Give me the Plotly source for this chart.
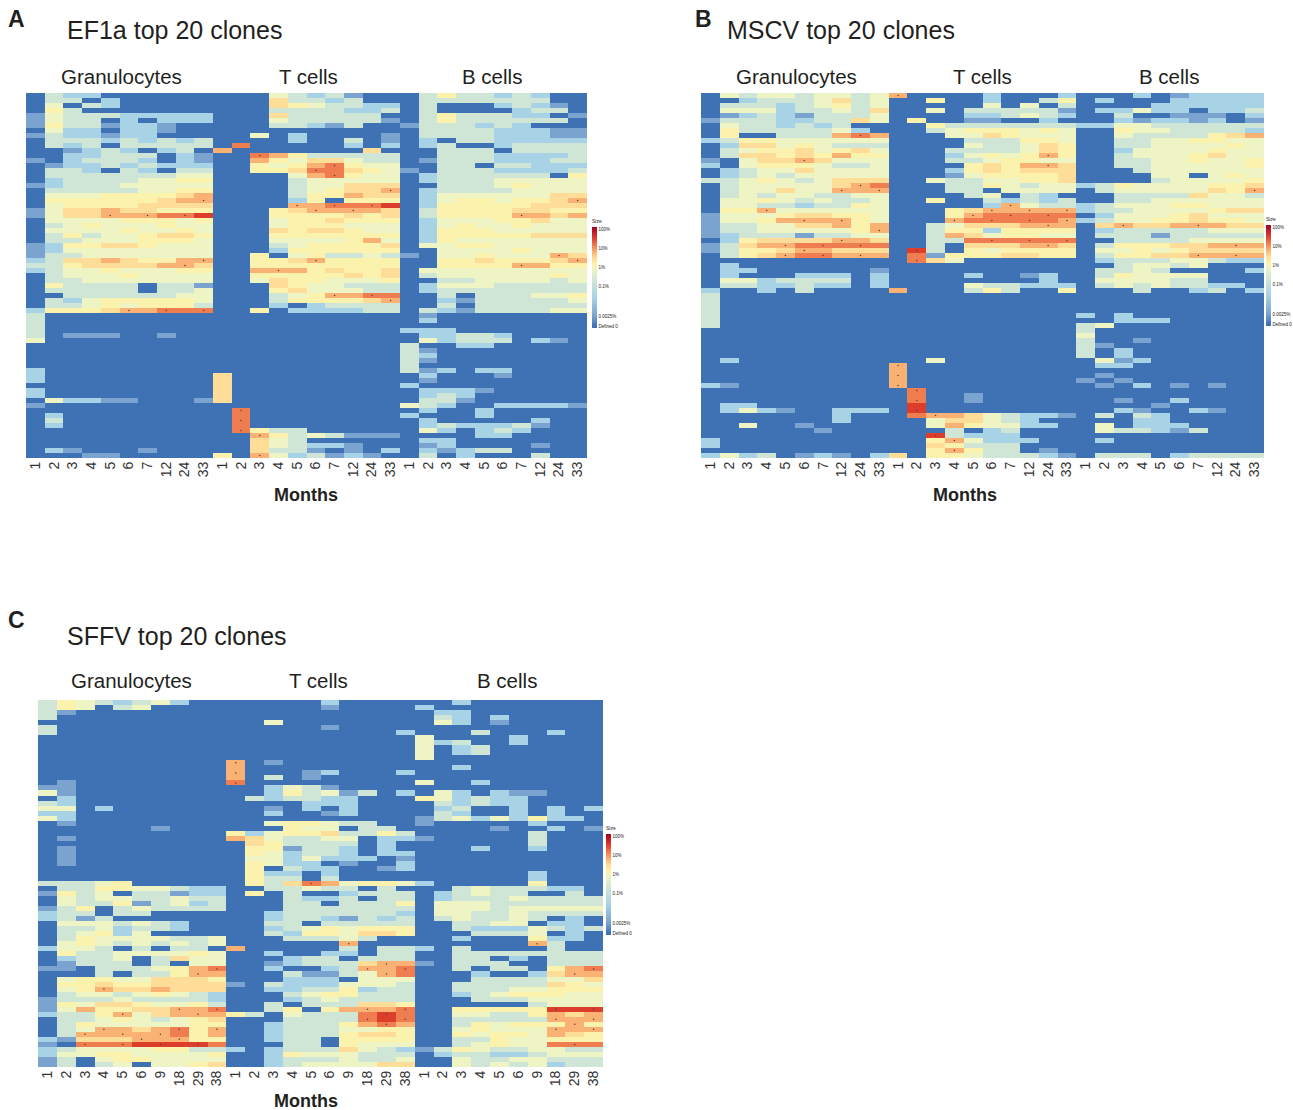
import plotly.graph_objects as go

W, H = 1293, 1110

# Level codes, one string per clone: Granulocytes | T cells | B cells
EF1A_ROWS = [
"0322000000 0004323100 0353323200","0330200000 0006332300 0333333300","0403200000 0006543322 0300023210",
"0530000000 0003333223 0300002330","1433322222 0006333330 0353332201","1433020222 0004333331 0353333330",
"1533122100 0003321300 1333232000","0422022100 0000000000 0333322211","1322122000 0040200001 0333322211",
"0333232323 0000200301 0203322222","0323033333 0800000202 0230023333","0012320230 7000000060 0033303333",
"0022333021 0087533333 0033322223","1023332021 0075466433 0133322233","0122323222 0054578544 0033033222",
"0332032033 0055688654 1033322223","0333333344 0000478544 0233333305","0233334455 0000344444 0233344444",
"1233344444 0000344666 0033345444","0333334455 0000345667 0233334444","0444555567 0000355766 0244444466",
"0555555677 0000250555 0245545567","0455556666 0000778889 0255555666","1466766555 0005677776 0355556655",
"1466777889 0005555656 0355557767","0444455545 0004556555 0244455644","0345444544 0004555444 0245445444",
"0444454454 0006566544 0255544444","0353445665 0005555555 0255555666","0334445554 0004444574 0254444444",
"1255665444 0003455556 0445544444","1244444444 0002555555 0044445444","1334444444 0050453343 1044544476",
"2366765577 0055675555 0055655567","3356666776 0055555555 0055557755","2344544455 0077756556 0444444444",
"0344454444 0055555656 0344444454","0334444444 0046554445 0033444434","0533330331 0006544333 0244433333",
"0333330334 0005644433 0233333333","0033333344 0003457788 0030333445","0324555554 0003555567 0021333334",
"0334545553 0002023333 0030333333","2555677888 0050222233 0321333344","3000000000 0000000000 0100000000",
"3000000000 0000000000 0200000000","3000000000 0000000000 0000000000","3000000000 0000000000 2220000000",
"3011100100 0000000000 0223320000","4000000000 0000000000 0423330210","0000000000 0000000000 3002200000",
"0000000000 0000000000 3100000000","0000000000 0000000000 3200000000","0000000000 0000000000 3100000000",
"0000000000 0000000000 3000000000","2000000000 0000000000 3120220000","2000000000 6000000000 0200010000",
"2000000000 6000000000 0100000000","0000000000 6000000000 2000000000","2000000000 6000000000 0222100000",
"2000000000 6000000000 0232000000","0422110001 6000000000 0331000000","1000000000 0000000000 4320022221",
"0000000000 0800000000 0200200000","0200000000 0800000000 2000200000","0300000000 0800000000 0200000200",
"0200000000 0800000000 0232223100","0000000000 0853300000 0420232000","0000000000 0075343111 0000220000",
"0000000000 0064300000 0220000000","0000000000 0064322100 0120000100","0210001000 0063310102 0212330000",
"0001100000 5074231210 0302000300",
]

MSCV_ROWS = [
"0434434434 7000020002 0002012222","0023334634 0050020035 0200022222","0333234534 0000040403 0000222222",
"0444233436 0040333331 0224220223","0123213334 0000223432 0030011102","1333223364 0500110020 0021221201",
"0433232300 0053333333 2244333333","0533333420 0034555454 0054433332","0500333787 0004465444 0043333567",
"2355444444 0000333554 0033445544","0266454333 0000433465 0033444454","0345564564 0003333465 0024444544",
"0366565755 0002454575 0034445644","1046676444 0003345544 0033445445","2045554334 0000565776 0033444445",
"0234464444 0002565666 0003444444","0234344444 0001455556 0000440454","3345434666 0043344556 0000344445",
"0344444678 0003354344 2354444556","0344644777 0003304444 0344444657","0343443344 0000340320 0033336443",
"0445434334 0050032323 0033444444","0443323354 0000027433 2344455444","0557444444 0005677777 2334444566",
"1444566554 0005788888 0244456444","1445777754 0007888887 2344556554","1334466757 0034666777 0676677766",
"1334444457 0035525555 0233333444","1233313344 0037645544 0333133333","0256666776 0033888888 0033334444",
"1367788888 0030666776 0355566777","1355677666 0930545555 0445456666","0356788777 0815556655 0355667777",
"0000000000 0864000000 0233344322","0200000000 0000000000 0034434000","0220000001 0000000000 0334300002",
"0200022202 0000200120 0354444000","0442333302 0000000020 0444433000","0332232202 0000433222 0343433220",
"2002030000 7000353005 0003002302","3000000000 0000000000 0000000000","3000000000 0000000000 0000000000",
"3000000000 0000000000 0000000000","3000000000 0000000000 0000000000","3000000000 0000000000 2020000000",
"3000000000 0000000000 0022200000","3000000000 0000000000 3400000000","0000000000 0000000000 3000000000",
"0000000000 0000000000 4000000000","0000000000 0000000000 3001000000","0000000000 0000000000 3100000000",
"0000000000 0000000000 3020000000","0000000000 0000000000 3020000000","0200000000 0040000000 0412000000",
"0000000000 7000000000 0220000000","0000000000 7000000000 0000000000","0000000000 7000000000 0100000000",
"0000000000 7000000000 1010000000","2100000000 7000000000 0102010100","0000000000 0800000000 0000000000",
"0000000000 0800100000 0000000000","0000000000 0800100000 0010020000","0220000000 0900000000 0000100000",
"0242100222 0900000000 0021002100","0000000200 0877643221 0303200000","0000000200 0046643200 0002200000",
"0040010000 0047544220 0402220000","0000001000 0003023000 0433213000","0000000000 0093222000 0000000000",
"2000000000 0057422200 0200000000","2000000000 0065333000 0000000000","0000000000 0057533010 0000000000",
"2423012102 6055433321 0333023333",
]

SFFV_ROWS = [
"3543234200 0000020000 0020000000","3540340000 0000010000 2000000000","3100000000 0000000000 0220000000",
"3000000000 0000000000 0320200000","0000000000 0040000000 0420100000","3000000000 0000010000 0000000000",
"3000000000 0000000002 0003000200","0000000000 0000000000 4000020000","0000000000 0000000000 4230020000",
"0000000000 0000000000 4023000000","0000000000 0000000000 4023000000","0000000000 0000000000 4000000000",
"0000000000 7010000000 0000000000","0000000000 7000000000 0020000000","0000000000 7000120002 0000000000",
"0000000000 7030100000 0000000000","0100000000 8000000000 4002000000","1100000000 0024310000 0000000000",
"4100000000 0025341302 0420211000","0200000000 0323322000 5423220000","3200000000 0000222000 0323220000",
"4402000000 0010202000 0230020202","2200000000 0020012000 0320020200","4200000000 0000000000 1342425220",
"0100000000 0045543300 1000002000","0000001000 0005440330 0000100201","0000000000 5245563353 0000003000",
"0100000000 7643344022 1000003000","0000000000 0653333020 0000003000","0100000000 0551332020 0002002000",
"0100000000 0542332022 0000000000","0100000000 0442422201 0000000000","0100000000 0542201002 0000000000",
"0000000000 0503220012 0000000000","0000000000 0522020000 0000002000","0000000000 0533030000 0000002000",
"3334500000 0536874554 2000005000","0335544322 0033433030 0034333220","1534033122 0503002333 0234330030",
"0434433433 0003223033 0233343333","0433513423 0003303335 0444333333","1350343333 0003333333 0444344444",
"2330330000 0023333332 0443343333","2313000000 0023321323 0343343020","0444343200 0033033333 0033440220",
"0334233200 0023454555 0032224323","0345240000 0032554665 0003334020","0354444334 0003334300 0020005220",
"0454343434 0000007000 0000007300","2443030330 7000003033 2030000300","0533444454 0020022033 0033333333",
"0233403644 0002330333 0033020333","0133303044 0012333677 1033300333","1103334578 0020023778 0030330578",
"0003033577 0003113478 0002002677","0455446665 0002220444 0003333446","0556556666 1032224443 0033333654",
"0457667666 0022335233 0033344555","0344345432 0003455333 0023455544","1333433332 0002343333 0003334444",
"1546654453 0030333665 0000003444","1475566778 0035057778 0055555999","2335746777 5304333898 0044335767",
"0334543456 0003333898 0033333777","0354444455 0023335787 0035455575","0347767857 0023334455 0045444777",
"0377777857 0023335665 0054554765","2166677755 0023305555 0033544555","1088899998 0003305444 0034544888",
"2344445533 2023336432 1354334433","2445544445 0025444333 0233223444","1304554444 0023334334 0043344333",
"1303404456 0023444466 0043434233",
]

COLUMN_TICKS_AB = ["1","2","3","4","5","6","7","12","24","33","1","2","3","4","5","6","7","12","24","33","1","2","3","4","5","6","7","12","24","33"]
COLUMN_TICKS_C = ["1","2","3","4","5","6","9","18","29","38","1","2","3","4","5","6","9","18","29","38","1","2","3","4","5","6","9","18","29","38"]

LEVEL_VALUES = [0.0, 0.12, 0.30, 0.47, 0.58, 0.63, 0.69, 0.75, 0.82, 0.89]
COLOR_STOPS = [[0.0,"#3f72b5"],[0.02,"#3f72b5"],[0.12,"#7ba3cf"],[0.30,"#a8d2e5"],[0.47,"#cfe6d6"],
               [0.58,"#eef4c4"],[0.63,"#fbf2ad"],[0.69,"#fedd98"],[0.75,"#f9b274"],[0.82,"#ef7d50"],
               [0.89,"#db3f2c"],[1.0,"#a50026"]]
BAR_TICK_VALUES = [0.98, 0.79, 0.60, 0.41, 0.11, 0.02]
BAR_TICK_TEXT = ["100%", "10%", "1%", "0.1%", "0.0025%", "Defined 0"]

PANELS = [
    dict(rows=EF1A_ROWS, ticks=COLUMN_TICKS_AB, box=(26,587,93,458), bar=(592,216,328), mx=306, my=495,
         title="EF1a top 20 clones", tx=65, ty=30, letter="A", lx=6, ly=19,
         groups=[("Granulocytes",121),("T cells",308),("B cells",492)], gy=77),
    dict(rows=MSCV_ROWS, ticks=COLUMN_TICKS_AB, box=(701,1264,93,458), bar=(1266,214,326), mx=965, my=495,
         title="MSCV top 20 clones", tx=725, ty=30, letter="B", lx=693, ly=19,
         groups=[("Granulocytes",796),("T cells",982),("B cells",1169)], gy=77),
    dict(rows=SFFV_ROWS, ticks=COLUMN_TICKS_C, box=(38,603,700,1067), bar=(606,823,935), mx=306, my=1101,
         title="SFFV top 20 clones", tx=65, ty=636, letter="C", lx=6, ly=620,
         groups=[("Granulocytes",131),("T cells",318),("B cells",507)], gy=680),
]


def cells(rows):
    out = []
    for row in rows:
        parts = [p.ljust(10, "0")[:10] for p in row.split()]
        out.append([int(c) for c in "".join(parts)])
    return out


fig = go.Figure()
ann = []


def text(s, x, y, size, anchor="center", bold=False, color="#231f20"):
    ann.append(dict(text=f"<b>{s}</b>" if bold else s, x=x/W, y=1-y/H, xref="paper", yref="paper",
                    xanchor=anchor, yanchor="middle", showarrow=False,
                    font=dict(family="Liberation Sans", size=size, color=color)))


for i, p in enumerate(PANELS):
    suffix = "" if i == 0 else str(i+1)
    L, R, T, B = p["box"]
    levels = cells(p["rows"])
    z = [[LEVEL_VALUES[v] for v in r] for r in levels]
    bx, bt, bb = p["bar"]
    fig.add_trace(go.Heatmap(
        z=z, x=list(range(30)), y=list(range(len(z))), xaxis="x"+suffix, yaxis="y"+suffix,
        zmin=0, zmax=1, colorscale=COLOR_STOPS, hoverinfo="skip", xgap=0, ygap=0,
        colorbar=dict(x=bx/W, xanchor="left", y=1-bb/H, yanchor="bottom", len=(bb-bt)/H, lenmode="fraction",
                      thickness=5, outlinewidth=0, tickmode="array", tickvals=BAR_TICK_VALUES, ticktext=BAR_TICK_TEXT,
                      ticks="", xpad=0, ypad=0, tickfont=dict(family="Liberation Sans", size=4.5, color="#222"),
                      title=dict(text="Size", font=dict(size=5, color="#222", family="Liberation Sans"), side="top"))))
    dx, dy = [], []
    for ry, r in enumerate(levels):
        for cx, v in enumerate(r):
            if v >= 7 and (ry + cx) % 2 == 0:
                dx.append(cx)
                dy.append(ry)
    fig.add_trace(go.Scatter(x=dx, y=dy, xaxis="x"+suffix, yaxis="y"+suffix, mode="markers", hoverinfo="skip",
                             marker=dict(size=1.5, color="#5b3a30"), showlegend=False))
    fig.update_layout({
        "xaxis"+suffix: dict(domain=[L/W, R/W], range=[-0.5, 29.5], tickmode="array", tickvals=list(range(30)),
                             ticktext=p["ticks"], tickangle=-90, ticks="", showgrid=False, zeroline=False,
                             showline=False, anchor="y"+suffix, automargin=False,
                             tickfont=dict(family="Liberation Sans", size=14, color="#333")),
        "yaxis"+suffix: dict(domain=[1-B/H, 1-T/H], range=[len(z)-0.5, -0.5], showticklabels=False, ticks="",
                             showgrid=False, zeroline=False, showline=False, anchor="x"+suffix, automargin=False),
    })
    text(p["title"], p["tx"], p["ty"], 25, anchor="left")
    text(p["letter"], p["lx"], p["ly"], 23, anchor="left", bold=True)
    for name, gx in p["groups"]:
        text(name, gx, p["gy"], 20.5)
    text("Months", p["mx"], p["my"], 18, bold=True)

fig.update_layout(width=W, height=H, margin=dict(l=0, r=0, t=0, b=0, autoexpand=False), paper_bgcolor="white",
                  plot_bgcolor="white", showlegend=False, annotations=ann)
fig.write_html("out.html", config={"displayModeBar": False},
               post_script="document.body.style.margin='0';")
